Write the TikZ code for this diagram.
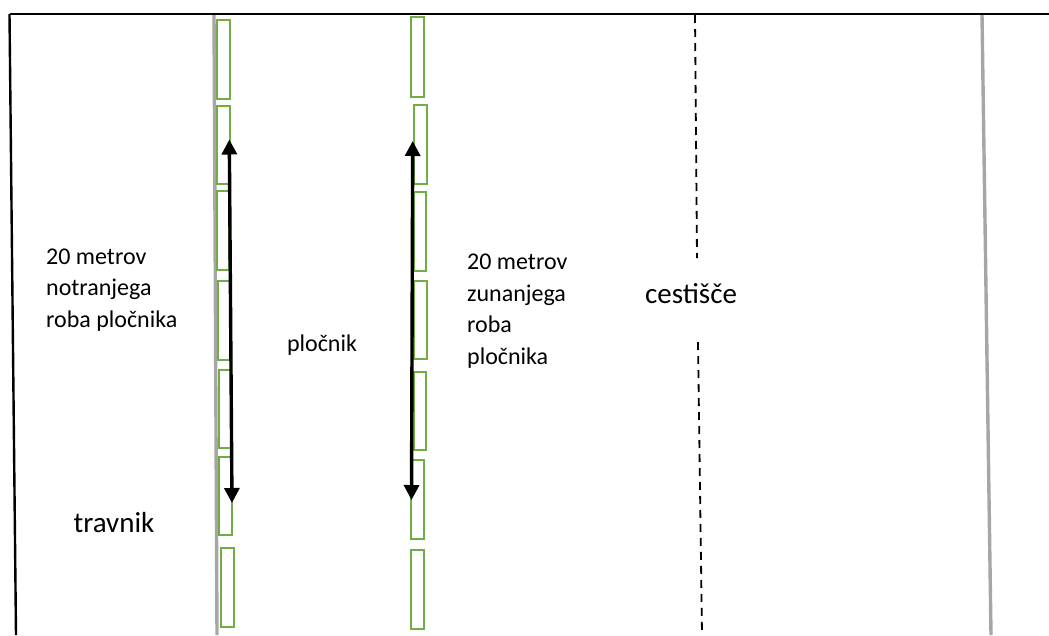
\documentclass[tikz,border=0pt]{standalone}
\usepackage{fontspec}
\setmainfont{Carlito}
\usetikzlibrary{arrows.meta}
\definecolor{curbgreen}{RGB}{112,173,71}
\definecolor{edgegray}{RGB}{166,166,166}
\tikzset{
  border/.style={line width=2.4pt, black},
  edgeline/.style={line width=3.4pt, edgegray},
  curbstone/.style={line width=2.4pt, curbgreen},
  centerline/.style={line width=1.8pt, black, dash pattern=on 8pt off 6pt},
  measure/.style={line width=3.4pt, black, {Triangle[length=15pt,width=15pt]}-{Triangle[length=15pt,width=15pt]}},
  smalltext/.style={font=\fontsize{24}{31.5}\selectfont, align=left, inner sep=0pt},
  bigtext/.style={font=\fontsize{29}{35}\selectfont, inner sep=0pt}
}
\begin{document}
\begin{tikzpicture}[x=1pt,y=-1pt]
\useasboundingbox (0,0) rectangle (1049,635);
% edges
\draw[edgeline] (214,14) -- (217,635);
\draw[edgeline] (982,15) -- (991,635);
% road centre line
\draw[centerline] (695,15) -- (697,258);
\draw[centerline] (698,342) -- (702,635);
% frame
\draw[border] (9.5,14) -- (1049,14);
\draw[border] (9.5,14) -- (16,635);
% inner curb stones
\foreach \xa/\ya/\xb/\yb in {217/20/230/99, 217/106/230/184, 217/191/229/270, 218/281/230/360, 219/370/231/448, 219/457/232/535, 221/548/234/627}
  \draw[curbstone] (\xa,\ya) rectangle (\xb,\yb);
% outer curb stones
\foreach \xa/\ya/\xb/\yb in {411/17/424/97, 414/105/427/184, 414/192/426/271, 414/281/427/359, 414/372/426/450, 411/460/424/539, 411/550/424/629}
  \draw[curbstone] (\xa,\ya) rectangle (\xb,\yb);
% measurement arrows
\coordinate (lt) at (229.3,139.5);
\coordinate (lb) at (232,503);
\coordinate (rt) at (412.7,141);
\coordinate (rb) at (411.5,500);
\draw[measure] (lt) -- (lb);
\draw[measure] (rt) -- (rb);
% labels
\node[smalltext, anchor=west] (inner) at (46,290) {20 metrov\\notranjega\\roba pločnika};
\node[smalltext, anchor=west] (outer) at (467,311) {20 metrov\\zunanjega\\roba\\pločnika};
\node[smalltext] (sidewalk) at (322,345) {pločnik};
\node[bigtext] (grass) at (114,523) {travnik};
\node[bigtext] (road) at (691,294) {cestišče};
\end{tikzpicture}
\end{document}
